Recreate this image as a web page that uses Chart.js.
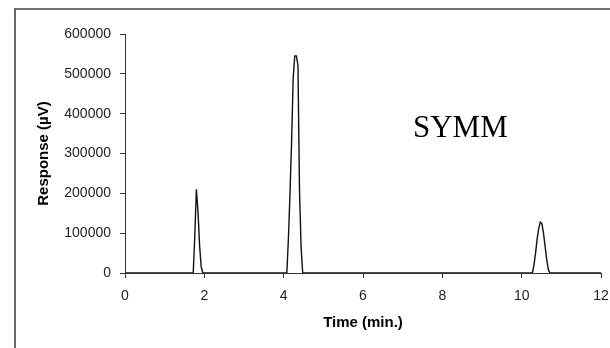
<!DOCTYPE html>
<html>
<head>
<meta charset="utf-8">
<script src="https://cdn.jsdelivr.net/npm/chart.js@4/dist/chart.umd.min.js"></script>
<style>
    body { margin: 0; background: #fff; }
    #wrap { width: 610px; height: 348px; }
</style>
</head>
<body>
<div id="wrap"><canvas id="chromChart" width="610" height="348"></canvas></div>
<script>
// Chromatogram trace, retention time in minutes vs detector response
const peak1Time = [1.72, 1.76, 1.80, 1.84, 1.88, 1.92, 1.96];
const peak1Resp = [0, 95000, 210000, 155000, 70000, 16000, 0];

const peak2Time = [4.08, 4.12, 4.16, 4.20, 4.24, 4.28, 4.32, 4.36, 4.40, 4.44, 4.48];
const peak2Resp = [0, 88000, 200000, 330000, 490000, 545000, 545000, 522000, 204000, 63000, 0];

const peak3Time = [10.27, 10.31, 10.35, 10.39, 10.43, 10.47, 10.51, 10.55, 10.59, 10.63, 10.67, 10.71];
const peak3Resp = [0, 20000, 50000, 85000, 112000, 128000, 124000, 100000, 68000, 35000, 10000, 0];

const runStart = 0;
const runEnd = 12;
const xTicks = [0, 2, 4, 6, 8, 10, 12];
const yTicks = [0, 100000, 200000, 300000, 400000, 500000, 600000];

const sampleName = 'SYMM';

function toPoints(times, values) {
    return times.map((t, i) => ({ x: t, y: values[i] }));
}

const trace = [{ x: runStart, y: 0 }]
    .concat(toPoints(peak1Time, peak1Resp))
    .concat(toPoints(peak2Time, peak2Resp))
    .concat(toPoints(peak3Time, peak3Resp))
    .concat([{ x: runEnd, y: 0 }]);

// outer frame and the sample name
const framePlugin = {
    id: 'frame',
    beforeDraw(chart) {
        const ctx = chart.ctx;
        ctx.save();
        ctx.fillStyle = '#fff';
        ctx.fillRect(0, 0, chart.width, chart.height);
        ctx.strokeStyle = '#444';
        ctx.lineWidth = 1.6;
        ctx.beginPath();
        ctx.moveTo(15, chart.height + 5);
        ctx.lineTo(15, 9);
        ctx.lineTo(chart.width + 5, 9);
        ctx.stroke();
        ctx.restore();
    },
    afterDraw(chart) {
        const ctx = chart.ctx;
        const xs = chart.scales.x;
        const ys = chart.scales.y;
        ctx.save();
        ctx.font = '31px "Liberation Serif", "Times New Roman", serif';
        ctx.fillStyle = '#000';
        ctx.textBaseline = 'alphabetic';
        ctx.fillText(sampleName, xs.getPixelForValue(7.26), ys.getPixelForValue(342000));
        ctx.restore();
    }
};

const ctx = document.getElementById('chromChart').getContext('2d');

new Chart(ctx, {
    type: 'line',
    data: {
        datasets: [{
            data: trace,
            borderColor: '#111',
            borderWidth: 1.4,
            pointRadius: 0,
            tension: 0,
            fill: false
        }]
    },
    options: {
        responsive: false,
        animation: false,
        layout: {
            padding: { top: 34, right: 9, left: 0, bottom: 0 }
        },
        plugins: {
            legend: { display: false },
            tooltip: { enabled: false }
        },
        scales: {
            x: {
                type: 'linear',
                min: runStart,
                max: runEnd,
                afterBuildTicks: function(scale) {
                    scale.ticks = xTicks.map(v => ({ value: v }));
                },
                afterFit: function(scale) {
                    scale.height = 75;
                    // keep the end labels from pushing the plot inwards
                    scale.paddingLeft = 0;
                    scale.paddingRight = 0;
                },
                grid: {
                    drawOnChartArea: false,
                    drawTicks: true,
                    tickLength: 5,
                    color: '#333'
                },
                border: { color: '#333', width: 1 },
                ticks: {
                    padding: 10,
                    color: '#222',
                    maxRotation: 0,
                    font: { family: '"Liberation Sans", Arial, sans-serif', size: 14 }
                },
                title: {
                    display: true,
                    text: 'Time (min.)',
                    color: '#000',
                    padding: { top: 0, bottom: 16 },
                    font: { family: '"Liberation Sans", Arial, sans-serif', size: 15, weight: 'bold' }
                }
            },
            y: {
                min: 0,
                max: 600000,
                afterBuildTicks: function(scale) {
                    scale.ticks = yTicks.map(v => ({ value: v }));
                },
                afterFit: function(scale) {
                    scale.width = 125;
                    scale.paddingTop = 0;
                    scale.paddingBottom = 0;
                },
                grid: {
                    drawOnChartArea: false,
                    drawTicks: true,
                    tickLength: 5,
                    color: '#333'
                },
                border: { color: '#333', width: 1 },
                ticks: {
                    padding: 9,
                    color: '#222',
                    callback: function(value) {
                        return String(value);
                    },
                    font: { family: '"Liberation Sans", Arial, sans-serif', size: 14 }
                },
                title: {
                    display: true,
                    text: 'Response (µV)',
                    color: '#000',
                    padding: { top: 35, bottom: 0 },
                    font: { family: '"Liberation Sans", Arial, sans-serif', size: 15, weight: 'bold' }
                }
            }
        }
    },
    plugins: [framePlugin]
});
</script>
</body>
</html>
